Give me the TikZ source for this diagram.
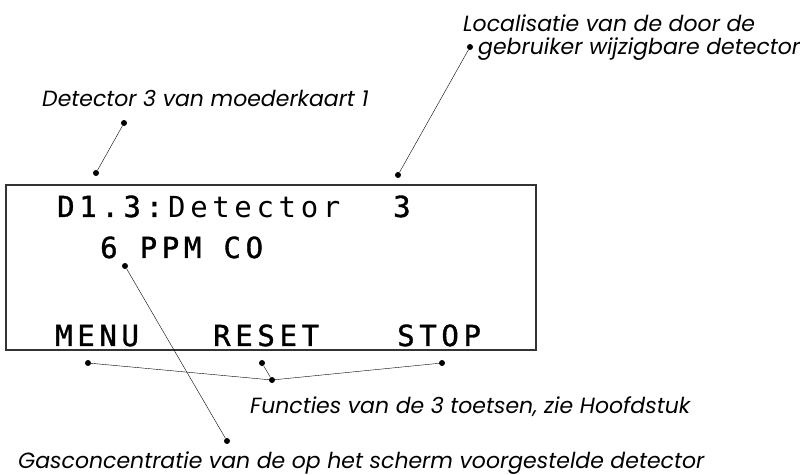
\documentclass[tikz,border=0pt]{standalone}
\usepackage{fontspec}
\usetikzlibrary{positioning}
\newfontfamily\lcdfont{DejaVu Sans Mono}[LetterSpace=16,FakeBold=1.2]
\newfontfamily\lcdthin{DejaVu Sans Mono}[LetterSpace=16]
\newfontfamily\notefont{Poppins}
\definecolor{frame}{HTML}{333333}

\begin{document}
\begin{tikzpicture}[x=1bp,y=-1bp,
  lcd/.style={anchor=base west,inner sep=0pt,font=\lcdfont\fontsize{29bp}{29bp}\selectfont},
  note/.style={anchor=base west,inner sep=0pt,font=\notefont\itshape\fontsize{22bp}{22bp}\selectfont},
  dot/.style={circle,fill,inner sep=0pt,minimum size=6bp}]
\useasboundingbox (0,0) rectangle (800,475);
% display
\draw[frame,line width=2.2bp] (6,185) rectangle (536,350);
\node[lcd] (addr) at (57,217) {D1.3:};
\node[lcd,font=\lcdthin\fontsize{29bp}{29bp}\selectfont] (name) at (168,218) {Detector};
\node[lcd] (num) at (393,217) {3};
\node[lcd] (conc) at (100,258) {6 PPM CO};
\node[lcd] (menu) at (55,346) {MENU};
\node[lcd] (reset) at (213,346) {RESET};
\node[lcd] (stop) at (397,346) {STOP};
% notes
\node[note] (det) at (42,107) {Detector 3 van moederkaart 1};
\node[note] (loc1) at (463,32) {Localisatie van de door de};
\node[note] (loc2) at (478,55) {gebruiker wijzigbare detector};
\node[note] (keys) at (250,413) {Functies van de 3 toetsen, zie Hoofdstuk};
\node[note] (gas) at (18,468) {Gasconcentratie van de op het scherm voorgestelde detector};
% leader dots
\node[dot] (d1) at (124,123) {};
\node[dot] (d2) at (96,173) {};
\node[dot] (l1) at (470,47) {};
\node[dot] (l2) at (398,175) {};
\node[dot] (g1) at (125,266) {};
\node[dot] (g2) at (227,441) {};
\node[dot] (k1) at (88,363) {};
\node[dot] (k2) at (262,363) {};
\node[dot] (k3) at (442,363) {};
\node[dot] (kj) at (272,380) {};
\draw (d1)--(d2);
\draw (l1)--(l2);
\draw (g1)--(g2);
\draw (k1)--(kj);
\draw (k2)--(kj);
\draw (k3)--(kj);
\end{tikzpicture}
\end{document}
